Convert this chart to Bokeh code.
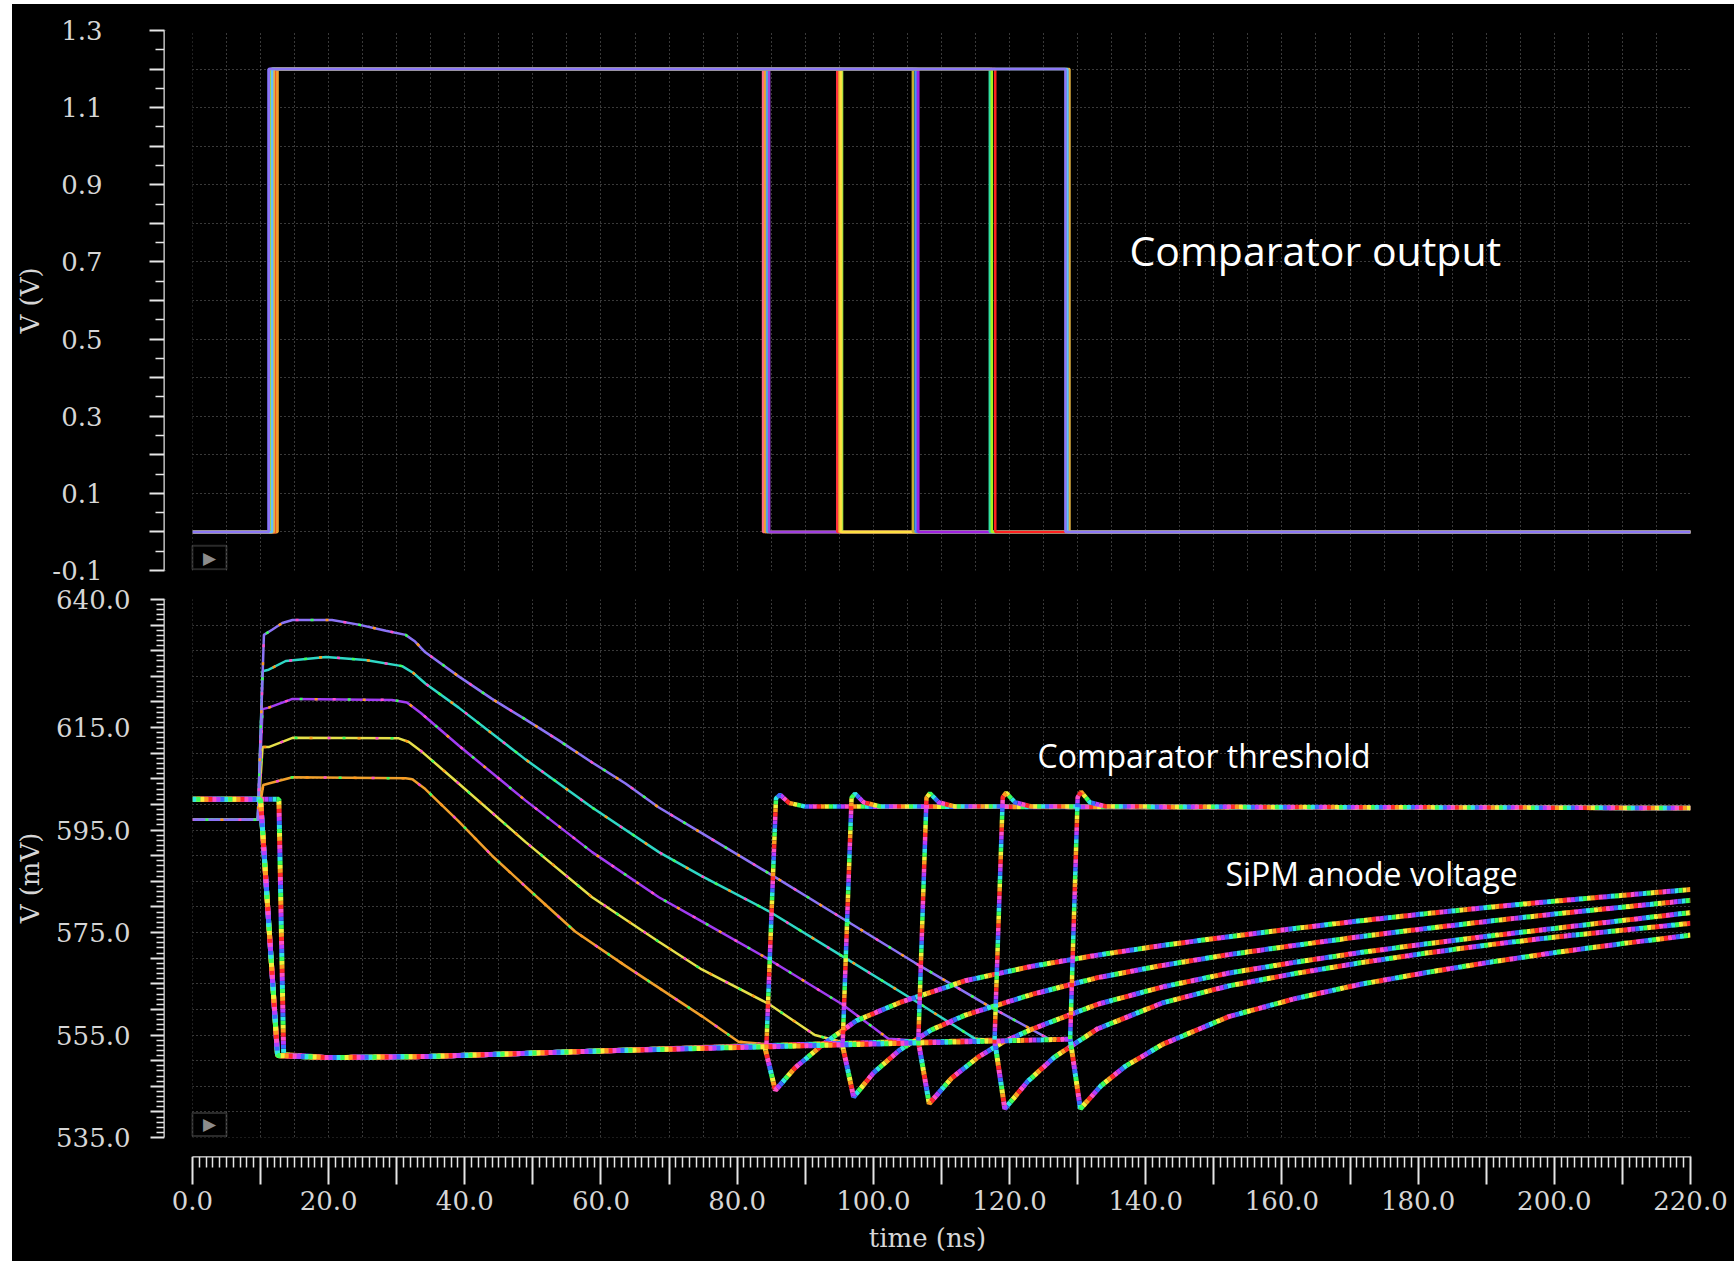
from bokeh.plotting import figure
from bokeh.models import Range1d, FixedTicker, CustomJSTickFormatter, BoxAnnotation, Label
from bokeh.layouts import column
from bokeh.embed import file_html
from bokeh.resources import INLINE

# ------------------------------------------------------------------ data
T_END = 220.0

# ticks / grid
X_MAJOR = list(range(0, 221, 10))
X_MINOR = [t for t in range(0, 221) if t % 10]
X_LABELED = list(range(0, 221, 20))
X_GRID = list(range(0, 221, 5))

V_MAJOR = [-0.1, 0.0, 0.1, 0.2, 0.3, 0.4, 0.5, 0.6, 0.7, 0.8, 0.9, 1.0, 1.1, 1.2, 1.3]
V_MINOR = [-0.05, 0.05, 0.15, 0.25, 0.35, 0.45, 0.55, 0.65, 0.75, 0.85, 0.95, 1.05, 1.15, 1.25]
V_LABELED = [-0.1, 0.1, 0.3, 0.5, 0.7, 0.9, 1.1, 1.3]

MV_MAJOR = list(range(535, 641, 5))
MV_MINOR = [v for v in range(535, 641) if v % 5]
MV_LABELED = [535, 555, 575, 595, 615, 640]

# comparator output: Monte Carlo runs (5 bundles)
OUT_LOW_V = 0.0
OUT_HIGH_V = 1.2
RUN_RISE_NS = [12.3, 12.5, 11.8, 11.4,
               12.2, 12.4, 11.7, 11.6,
               11.5, 11.8, 11.2, 11.3,
               11.9, 11.6, 12.1,
               12.0, 11.7, 11.2]
RUN_FALL_NS = [83.8, 84.1, 84.4, 84.7,
               94.7, 95.0, 95.4, 95.2,
               105.8, 106.2, 106.4, 106.6,
               117.1, 117.4, 117.9,
               128.8, 128.5, 128.2]
RUN_COLOR = ["#ff6a8a", "#f0a030", "#50a8e0", "#a040e0",
             "#ff3040", "#f0a030", "#b0e040", "#ffe040",
             "#c8b030", "#40a8e8", "#6060ff", "#a020e0",
             "#30e0a0", "#a8f020", "#ff2020",
             "#e0b040", "#60c0ff", "#8c78f5"]

# comparator threshold, before reset (ns / mV), one list per bundle
THR_PRE_T = [
    [0, 9.6, 10.4, 11.2, 14.7, 31.3, 32.3, 34.2, 39.1, 44.0, 48.9, 56.2, 63.6, 74.8, 80.2, 84.3],
    [0, 9.6, 10.3, 11.2, 14.7, 30.3, 31.8, 33.6, 39.1, 48.9, 58.7, 68.5, 74.8, 84.6, 91.4, 95.5],
    [0, 9.6, 10.3, 11.2, 14.7, 29.3, 31.5, 33.5, 39.1, 48.9, 58.7, 68.5, 74.8, 84.6, 95.3, 102.2, 106.6],
    [0, 9.6, 10.3, 11.2, 13.7, 19.6, 25.4, 30.8, 32.4, 34.2, 39.1, 48.9, 58.7, 68.5, 74.8, 84.6, 95.3,
     106.1, 114.9, 117.8],
    [0, 9.6, 10.5, 11.7, 13.2, 14.7, 20.5, 24.4, 28.4, 31.3, 32.7, 34.2, 39.1, 44.0, 48.9, 53.8, 58.7,
     63.6, 68.5, 74.8, 84.6, 95.3, 106.1, 116.9, 125.7, 128.9],
]
THR_PRE_MV = [
    [597.0, 597.0, 603.8, 604.1, 605.3, 605.1, 604.9, 603.0, 596.7, 590.0, 584.0, 575.2, 568.5, 558.7,
     553.7, 553.2],
    [597.0, 597.0, 611.2, 611.2, 613.0, 612.9, 612.2, 610.4, 604.1, 592.7, 581.9, 573.2, 567.8, 561.1,
     555.0, 553.6],
    [597.0, 597.0, 618.6, 618.9, 620.6, 620.4, 619.9, 617.9, 611.5, 600.8, 590.7, 581.9, 577.2, 569.8,
     561.1, 554.3, 553.9],
    [597.0, 597.0, 626.0, 626.3, 628.0, 628.8, 628.2, 627.0, 625.7, 623.6, 618.9, 608.8, 599.4, 590.7,
     586.0, 579.2, 570.5, 561.7, 554.3, 554.1],
    [597.0, 597.0, 633.1, 634.1, 635.4, 636.0, 636.0, 635.1, 633.9, 633.1, 631.8, 629.7, 625.0, 620.6,
     616.6, 612.5, 608.2, 604.1, 599.4, 594.4, 586.6, 577.9, 569.1, 560.7, 554.3, 554.2],
]
# comparator threshold, after reset
THR_POST_T = [
    [84.3, 85.7, 86.3, 87.6, 90.0, 220.0],
    [95.5, 96.8, 97.3, 98.6, 101.0, 220.0],
    [106.6, 107.8, 108.3, 109.6, 112.0, 220.0],
    [117.8, 119.0, 119.5, 120.8, 123.2, 220.0],
    [128.9, 130.0, 130.5, 131.8, 134.2, 220.0],
]
THR_POST_MV = [
    [553.2, 601.2, 601.9, 600.3, 599.6, 599.3],
    [553.6, 601.3, 602.1, 600.4, 599.6, 599.3],
    [553.9, 601.3, 602.2, 600.4, 599.6, 599.3],
    [554.1, 601.4, 602.3, 600.4, 599.6, 599.3],
    [554.2, 601.4, 602.5, 600.4, 599.6, 599.3],
]
# SiPM anode voltage
ANODE_T = [
    [0, 10.0, 12.7, 13.4, 20.0, 34.0, 60.0, 84.0, 85.6, 88.5, 92.7, 97.5, 103.8, 113.5, 123.2, 132.9,
     142.5, 152.2, 161.9, 171.5, 181.2, 190.9, 200.6, 210.3, 220.0],
    [0, 10.0, 12.5, 20.0, 34.0, 60.0, 95.4, 97.1, 100.0, 103.8, 108.5, 113.5, 123.2, 132.9, 142.5,
     152.2, 161.9, 171.5, 181.2, 190.9, 200.6, 210.3, 220.0],
    [0, 10.0, 12.5, 20.0, 34.0, 60.0, 106.6, 108.2, 111.5, 115.4, 119.0, 123.2, 132.9, 142.5, 152.2,
     161.9, 171.5, 181.2, 190.9, 200.6, 210.3, 220.0],
    [0, 10.0, 12.5, 20.0, 34.0, 60.0, 117.8, 119.3, 122.7, 126.6, 132.9, 142.5, 152.2, 161.9, 171.5,
     181.2, 190.9, 200.6, 210.3, 220.0],
    [0, 10.0, 12.5, 20.0, 34.0, 60.0, 128.9, 130.4, 133.5, 137.0, 142.5, 152.2, 161.9, 171.5, 181.2,
     190.9, 200.6, 210.3, 220.0],
]
ANODE_MV = [
    [601.0, 601.0, 601.0, 551.2, 550.6, 550.8, 551.9, 553.0, 544.2, 548.6, 553.3, 557.8, 561.3, 565.6,
     568.4, 570.6, 572.5, 574.2, 575.8, 577.3, 578.7, 580.0, 581.2, 582.3, 583.4],
    [601.0, 601.0, 551.0, 550.6, 550.8, 551.9, 553.4, 542.9, 547.6, 552.0, 556.0, 558.9, 562.9, 566.2,
     568.6, 570.7, 572.5, 574.2, 575.8, 577.3, 578.7, 580.0, 581.3],
    [601.0, 601.0, 551.0, 550.6, 550.8, 551.9, 553.8, 541.6, 546.6, 550.7, 553.6, 556.1, 561.0, 564.4,
     567.1, 569.2, 571.1, 572.8, 574.4, 575.9, 577.4, 578.9],
    [601.0, 601.0, 551.0, 550.6, 550.8, 551.9, 554.0, 540.6, 546.0, 550.7, 556.2, 561.3, 564.6, 567.0,
     569.1, 571.0, 572.7, 574.2, 575.5, 576.8],
    [601.0, 601.0, 551.0, 550.6, 550.8, 551.9, 554.2, 540.6, 545.2, 548.9, 553.2, 558.6, 562.1, 564.9,
     567.2, 569.3, 571.2, 572.9, 574.5],
]

# ------------------------------------------------------------------ style
THR_COLOR = ["#f0a02c", "#e6e04a", "#a23cf2", "#2fd8c6", "#8c74f6"]
RAINBOW = ["#ff2a2a", "#ff9a1f", "#f2f23a", "#3cff5a", "#2ee6e6", "#3a6bff", "#b43cff", "#ff4fc8"]
SPECKLE = ["#ff9a1f", "#3cff5a", "#ff4fc8"]
GRID_COLOR = "#909090"
AXIS_COLOR = "#e6e6e6"
LABEL_COLOR = "#d6d6d6"
SERIF = "DejaVu Serif"
SANS = "Open Sans"

AXIS_GAP_NS = 4.1       # space between y axis line and t = 0
MV_AXIS_START = 531.3   # space between lower plot area and time axis

x_range = Range1d(-AXIS_GAP_NS, T_END)


def base_fig(height, y_range, top, bottom):
    p = figure(width=1722, height=height, x_range=x_range, y_range=y_range,
               output_backend="svg", toolbar_location=None,
               background_fill_color="black", border_fill_color="black",
               min_border_left=150, min_border_right=44,
               min_border_top=top, min_border_bottom=bottom)
    p.outline_line_color = None
    for g in (p.xgrid, p.ygrid):
        g.grid_line_color = GRID_COLOR
        g.grid_line_dash = "1 3"
        g.grid_line_width = 1
        g.grid_line_alpha = 0.8
    p.xgrid.ticker = FixedTicker(ticks=X_GRID)
    return p


def style_axis(ax, label, tick_out, minor_out, label_standoff, axis_label_standoff):
    ax.axis_label = label
    ax.axis_line_color = AXIS_COLOR
    ax.axis_line_width = 2
    ax.major_tick_line_color = AXIS_COLOR
    ax.major_tick_line_width = 2
    ax.minor_tick_line_color = AXIS_COLOR
    ax.minor_tick_line_width = 1.5
    ax.major_tick_in = 0
    ax.minor_tick_in = 0
    ax.major_tick_out = tick_out
    ax.minor_tick_out = minor_out
    ax.major_label_standoff = label_standoff
    ax.axis_label_standoff = axis_label_standoff
    ax.major_label_text_font = SERIF
    ax.major_label_text_font_size = "26px"
    ax.major_label_text_color = LABEL_COLOR
    ax.axis_label_text_font = SERIF
    ax.axis_label_text_font_style = "normal"
    ax.axis_label_text_font_size = "26px"
    ax.axis_label_text_color = LABEL_COLOR


def label_formatter(show, digits):
    return CustomJSTickFormatter(
        args=dict(show=show),
        code=f"return show.some(v => Math.abs(v - tick) < 1e-6) ? tick.toFixed({digits}) : '';")


def rainbow_line(p, xs, ys, width, colors, dash=4):
    n = len(colors)
    for i, c in enumerate(colors):
        p.line(xs, ys, line_color=c, line_width=width,
               line_dash=f"{dash} {dash * (n - 1)}", line_dash_offset=i * dash)


def play_icon(p, left, right, bottom, top):
    p.add_layout(BoxAnnotation(left=left, right=right, bottom=bottom, top=top,
                               fill_alpha=0, line_color="#8c8c8c", line_width=2))
    p.add_layout(Label(x=(left + right) / 2, y=(bottom + top) / 2, text="\u25b6",
                       text_align="center", text_baseline="middle", text_color="#8c8c8c",
                       text_font="DejaVu Sans", text_font_size="17px"))


def mask(p, **kw):
    p.add_layout(BoxAnnotation(fill_color="black", fill_alpha=1, line_alpha=0, **kw))


# ------------------------------------------------------------------ top plot
p1 = base_fig(581, Range1d(-0.1, 1.3), 26, 15)
p1.xaxis.visible = False
style_axis(p1.yaxis[0], "V (V)", 15, 9, 47, 4)
p1.yaxis.ticker = FixedTicker(ticks=V_MAJOR, minor_ticks=V_MINOR)
p1.yaxis.formatter = label_formatter(V_LABELED, 1)

for rise, fall, col in zip(RUN_RISE_NS, RUN_FALL_NS, RUN_COLOR):
    xs = [0.0, rise, rise, fall, fall, T_END]
    ys = [OUT_LOW_V, OUT_LOW_V, OUT_HIGH_V, OUT_HIGH_V, OUT_LOW_V, OUT_LOW_V]
    p1.line(xs, ys, line_color=col, line_width=2.5)

mask(p1, right=0)
play_icon(p1, 0.0, 5.0, -0.097, -0.036)
p1.add_layout(Label(x=137.6, y=0.73, text="Comparator output", text_font=SANS,
                    text_font_size="41px", text_color="white", text_baseline="middle"))

# ------------------------------------------------------------------ bottom plot
p2 = base_fig(676, Range1d(MV_AXIS_START, 640), 14, 105)
style_axis(p2.yaxis[0], "V (mV)", 14, 8, 20, 8)
p2.yaxis.ticker = FixedTicker(ticks=MV_MAJOR, minor_ticks=MV_MINOR)
p2.yaxis.formatter = label_formatter(MV_LABELED, 1)
p2.yaxis.bounds = (535, 640)
style_axis(p2.xaxis[0], "time (ns)", 28, 11, 6, 10)
p2.xaxis.ticker = FixedTicker(ticks=X_MAJOR, minor_ticks=X_MINOR)
p2.xaxis.formatter = label_formatter(X_LABELED, 1)
p2.xaxis.bounds = (0, T_END)

for k in range(5):
    p2.line(THR_PRE_T[k], THR_PRE_MV[k], line_color=THR_COLOR[k], line_width=2.5)
    for i, c in enumerate(SPECKLE):
        p2.line(THR_PRE_T[k], THR_PRE_MV[k], line_color=c, line_width=2.5,
                line_dash="3 45", line_dash_offset=15 * i + 5 * k)

for k in range(5):
    cols = RAINBOW[k:] + RAINBOW[:k]
    rainbow_line(p2, ANODE_T[k], ANODE_MV[k], 5, cols)
for k in range(5):
    cols = RAINBOW[-k:] + RAINBOW[:-k] if k else RAINBOW
    rainbow_line(p2, THR_POST_T[k], THR_POST_MV[k], 4.5, cols[::-1])

mask(p2, right=0)
mask(p2, top=535)
play_icon(p2, 0.0, 5.0, 535.3, 539.8)
p2.add_layout(Label(x=124.1, y=609.6, text="Comparator threshold", text_font=SANS,
                    text_font_size="32px", text_color="white", text_baseline="middle"))
p2.add_layout(Label(x=151.7, y=586.6, text="SiPM anode voltage", text_font=SANS,
                    text_font_size="32px", text_color="white", text_baseline="middle"))

layout = column(p1, p2, margin=(4, 0, 0, 12), spacing=0,
                styles={"background-color": "black"})
open("out.html", "w").write(file_html(layout, INLINE))
